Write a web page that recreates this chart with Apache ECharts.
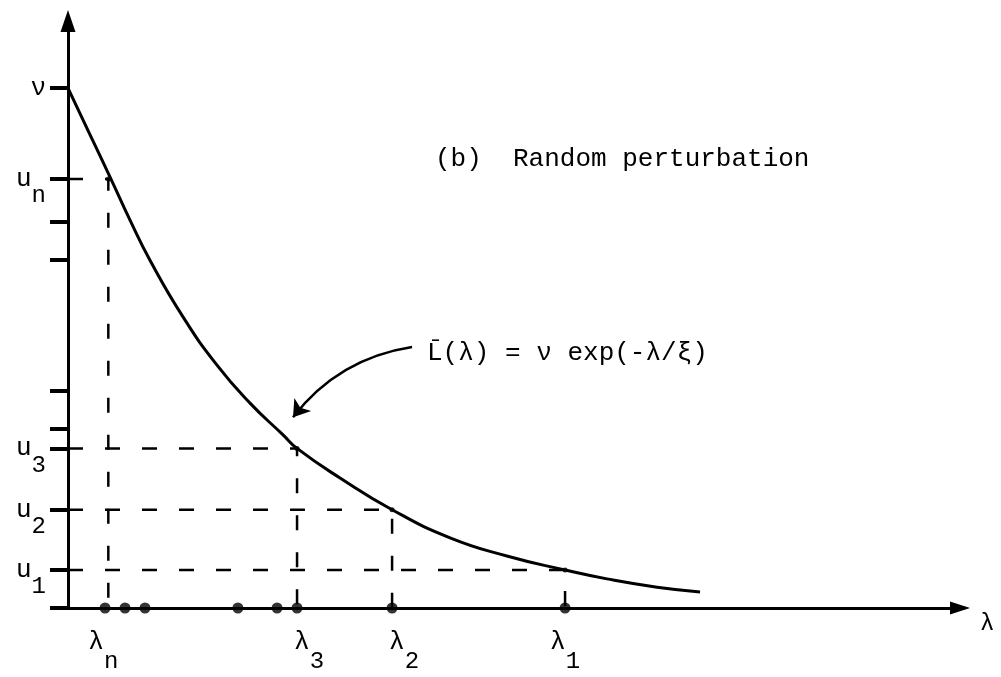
<!DOCTYPE html>
<html>
<head>
<meta charset="utf-8">
<script src="https://cdn.jsdelivr.net/npm/echarts@6/dist/echarts.min.js"></script>
<style>
  html, body { margin: 0; background: #fff; }
  #chart { width: 1001px; height: 677px; }
</style>
</head>
<body>
<div id="chart"></div>
<script>
// values (λ in units of ξ, L in units of ν)
const nu = 1.0
const uLevels = [0.825, 0.307, 0.189, 0.073]      // u_n, u_3, u_2, u_1
const lambdaPts = [0.21, 1.193, 1.688, 2.589]     // λ_n, λ_3, λ_2, λ_1
const pointSubs = ['n', '3', '2', '1']
const sampleDots = [0.193, 0.297, 0.401, 0.885, 1.089, 1.193, 1.688, 2.589]
const extraTicks = [0, 0.742, 0.669, 0.417, 0.344]
const curveX = [0, 0.115, 0.224, 0.323, 0.427, 0.599, 0.776, 0.948, 1.120, 1.193, 1.417, 1.688, 1.990, 2.286, 2.589, 2.807, 3.068, 3.292]
const curveY = [1.0, 0.910, 0.825, 0.746, 0.669, 0.560, 0.467, 0.394, 0.333, 0.307, 0.250, 0.189, 0.135, 0.100, 0.073, 0.056, 0.040, 0.031]
const arrowFrom = [1.792, 0.502]
const arrowTo = [1.172, 0.367]

const FONT = 'Liberation Mono'
const INK = '#000'

const chart = echarts.init(document.getElementById('chart'))

// label nudges, only so the typed labels sit where they do in the figure
const xLabelStyle = ['m', 'mp', 'mp', 'm']

chart.setOption({
  backgroundColor: '#fff',
  animation: false,
  title: [{
    text: '(b)  Random perturbation',
    left: 435,
    top: 146,
    padding: 0,
    textStyle: { fontFamily: FONT, fontSize: 26, fontWeight: 'normal', color: INK }
  }, {
    text: 'L\u0304(λ) = ν exp(-λ/ξ)',
    left: 427,
    top: 340,
    padding: 0,
    textStyle: { fontFamily: FONT, fontSize: 26, fontWeight: 'normal', color: INK }
  }],
  grid: { left: 68, right: 41, top: 21, bottom: 69 },
  xAxis: {
    type: 'value',
    min: 0,
    max: 4.646,
    name: 'λ',
    nameLocation: 'end',
    nameGap: 20,
    nameTextStyle: { fontFamily: FONT, fontSize: 24, color: INK, verticalAlign: 'top', padding: [4, 0, 0, 0] },
    splitLine: { show: false },
    axisLine: {
      lineStyle: { color: INK, width: 3 },
      symbol: ['none', 'triangle'],
      symbolSize: [13, 20]
    },
    axisTick: { show: false },
    axisLabel: {
      customValues: lambdaPts,
      margin: 20,
      color: INK,
      formatter: v => {
        const i = lambdaPts.indexOf(v)
        const s = i === 0 ? 'sn' : 's'
        return '{' + xLabelStyle[i] + '|λ}{' + s + '|' + pointSubs[i] + '}'
      },
      rich: {
        m: { fontFamily: FONT, fontSize: 26, lineHeight: 28, verticalAlign: 'middle', color: INK },
        mp: { fontFamily: FONT, fontSize: 26, lineHeight: 28, verticalAlign: 'middle', color: INK, padding: [0, 0, 0, 24] },
        s: { fontFamily: FONT, fontSize: 24, lineHeight: 26, verticalAlign: 'middle', color: INK, padding: [40, 0, 0, 0] },
        sn: { fontFamily: FONT, fontSize: 24, lineHeight: 26, verticalAlign: 'middle', color: INK, padding: [40, 10, 0, 0] }
      }
    }
  },
  yAxis: {
    type: 'value',
    min: 0,
    max: 1.129,
    splitLine: { show: false },
    axisLine: {
      lineStyle: { color: INK, width: 3 },
      symbol: ['none', 'triangle'],
      symbolSize: [15, 22]
    },
    axisTick: {
      customValues: extraTicks.concat([nu], uLevels),
      length: 18,
      lineStyle: { color: INK, width: 4 }
    },
    axisLabel: {
      customValues: [nu].concat(uLevels),
      margin: 22,
      color: INK,
      formatter: v => {
        if (v === nu) return '{m|ν}'
        const i = uLevels.indexOf(v)
        return '{m|u}{s|' + pointSubs[i] + '}'
      },
      rich: {
        m: { fontFamily: FONT, fontSize: 26, lineHeight: 28, verticalAlign: 'middle', color: INK },
        s: { fontFamily: FONT, fontSize: 24, lineHeight: 26, verticalAlign: 'middle', color: INK, padding: [34, 0, 0, 0] }
      }
    }
  },
  series: [{
    // dashed guides: u_i on the axis -> point on curve -> λ_i
    type: 'lines',
    coordinateSystem: 'cartesian2d',
    polyline: true,
    silent: true,
    lineStyle: { color: INK, width: 2.5, type: [15, 22], opacity: 1 },
    data: lambdaPts.map((l, i) => ({ coords: [[0, uLevels[i]], [l, uLevels[i]], [l, 0]] }))
  }, {
    name: 'L(λ)',
    type: 'line',
    smooth: 0.5,
    showSymbol: false,
    clip: false,
    lineStyle: { color: INK, width: 3 },
    data: curveX.map((x, i) => [x, curveY[i]])
  }, {
    // points where the guides meet the curve
    type: 'scatter',
    symbolSize: 5,
    clip: false,
    itemStyle: { color: INK },
    data: lambdaPts.map((l, i) => [l, uLevels[i]])
  }, {
    // the sample λ's on the axis
    type: 'scatter',
    symbolSize: 11,
    clip: false,
    itemStyle: { color: INK },
    data: sampleDots.map(x => [x, 0])
  }, {
    // arrow from the formula to the curve
    type: 'lines',
    coordinateSystem: 'cartesian2d',
    silent: true,
    symbol: ['none', 'arrow'],
    symbolSize: 16,
    lineStyle: { color: INK, width: 2.5, curveness: -0.2, opacity: 1 },
    data: [{ coords: [arrowFrom, arrowTo] }]
  }]
})
</script>
</body>
</html>
